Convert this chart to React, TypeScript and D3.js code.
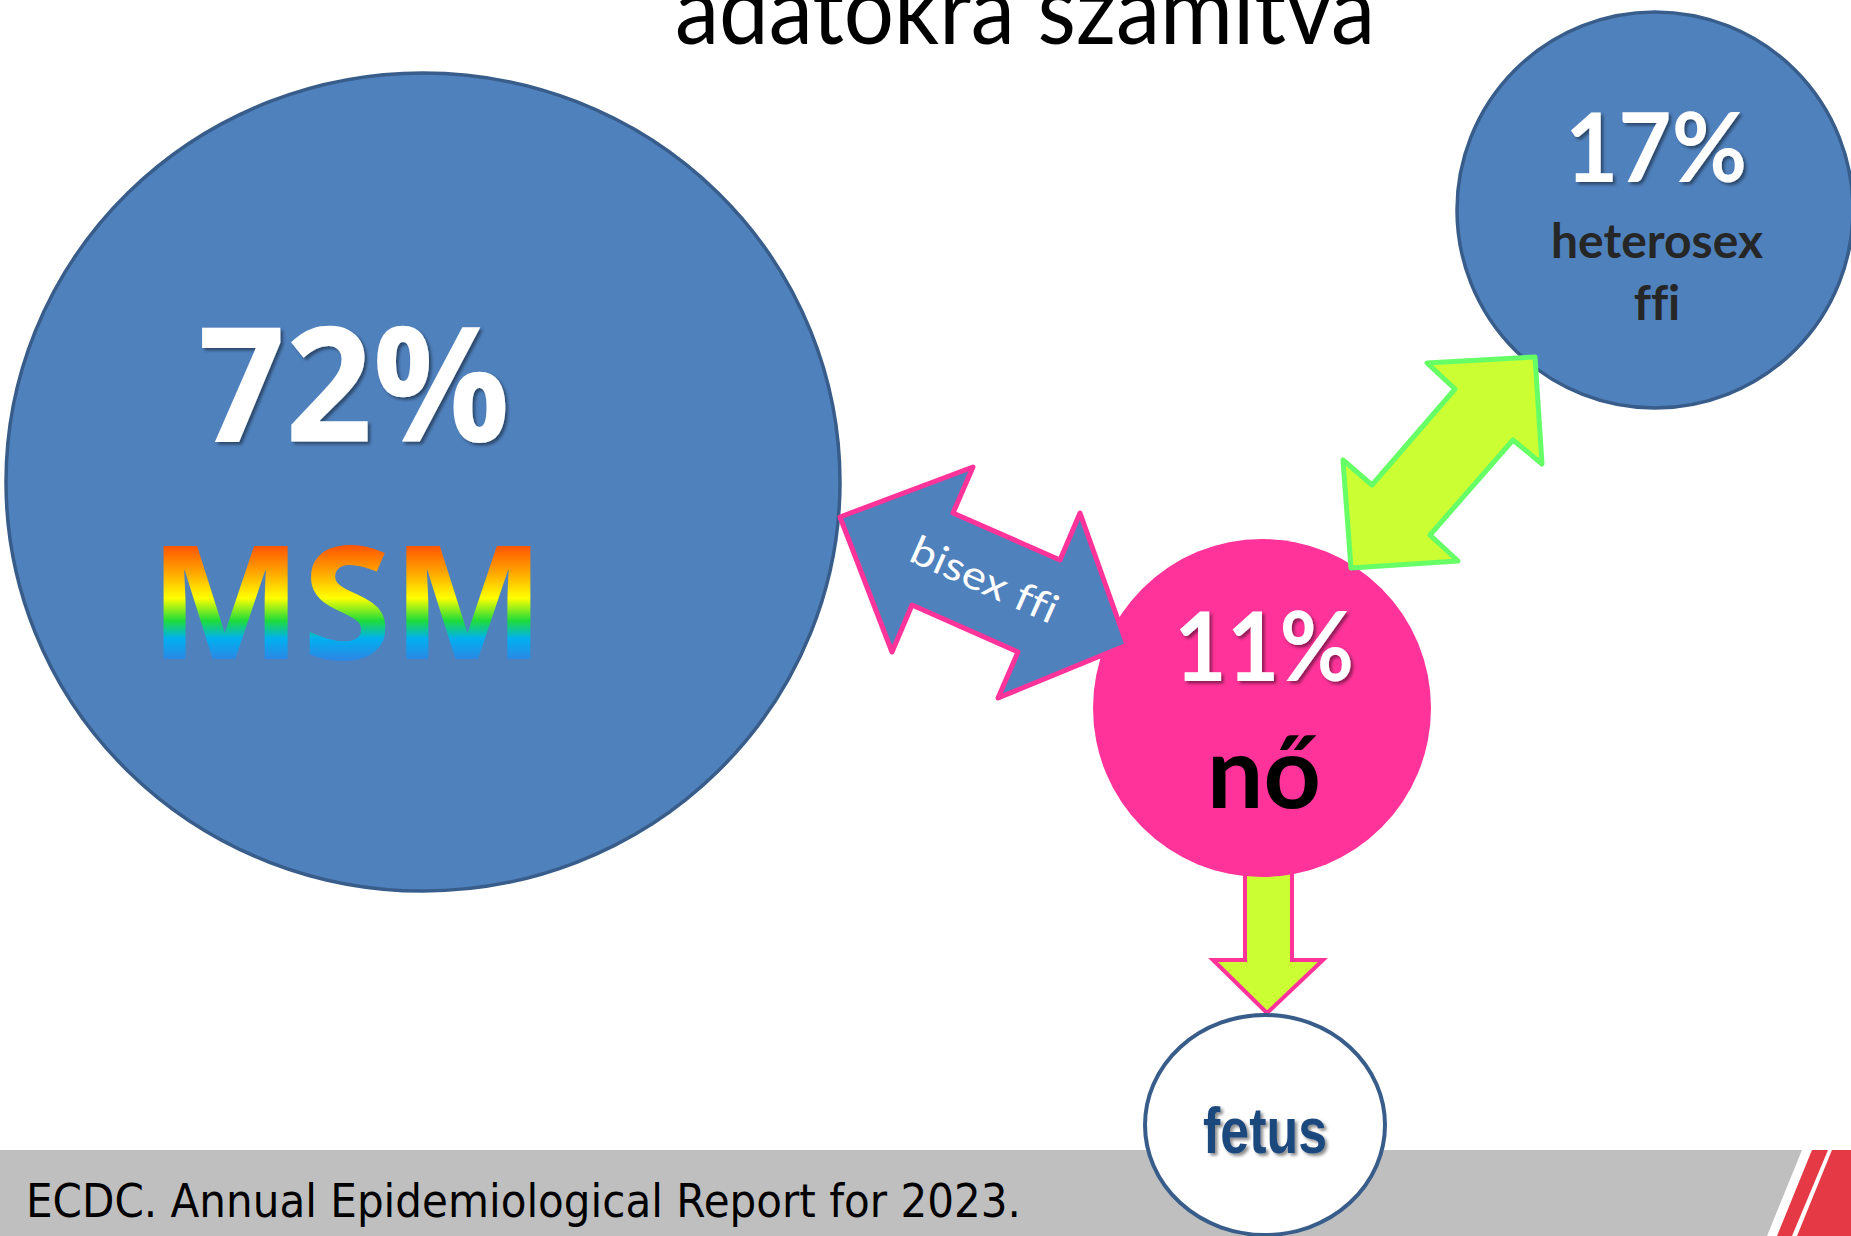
import React from "react";
import * as d3 from "d3";

// ---------- data ----------
const groupLabels = ["MSM", "heterosex ffi", "nő"];
const groupShares = [72, 17, 11];
const bridgeLabels = ["bisex ffi"];
const fetusLabels = ["fetus"];
const titleLines = ["adatokra számítva"];
const sourceLines = ["ECDC. Annual Epidemiological Report for 2023."];

// ---------- layout ----------
const W = 1851;
const H = 1236;

const circleLayout = [
  { cx: 423, cy: 482, rx: 417, ry: 409 },
  { cx: 1655, cy: 210, rx: 198, ry: 198 },
  { cx: 1262, cy: 708, rx: 169, ry: 169 },
];
const fetusCircle = { cx: 1265, cy: 1125, rx: 120, ry: 110 };

const bisexArrow: [number, number][] = [
  [840, 517], [973, 467], [953, 513], [1060, 560], [1080, 513],
  [1127, 645], [998, 698], [1018, 652], [912, 605], [892, 652],
];
const heteroArrow: [number, number][] = [
  [1535, 357], [1427, 363], [1455, 389], [1372, 485], [1343, 460],
  [1351, 568], [1458, 561], [1430, 535], [1513, 440], [1542, 464],
];
const downArrow: [number, number][] = [
  [1245, 850], [1292, 850], [1292, 960], [1323, 960], [1267, 1013],
  [1213, 960], [1245, 960],
];

const pct = (v: number) => `${d3.format("d")(v)}%`;
const closedLine = d3.line<[number, number]>().curve(d3.curveLinearClosed);
const noLig = { fontVariantLigatures: "none" as const, fontFeatureSettings: "'liga' 0, 'clig' 0" };

export default function App() {
  const blue = "#4f81bd";
  const blueStroke = "#385d8a";
  const pink = "#ff3399";
  const lime = "#ccff33";
  const green = "#66ff66";

  return (
    <svg
      width={W}
      height={H}
      viewBox={`0 0 ${W} ${H}`}
      style={{ position: "absolute", left: 0, top: 0, background: "#fff" }}
    >
      <defs>
        <filter id="sh" x="-20%" y="-20%" width="140%" height="140%">
          <feDropShadow dx="2.5" dy="2.5" stdDeviation="1.5" floodColor="#000" floodOpacity="0.45" />
        </filter>
        <linearGradient id="rainbow" gradientUnits="userSpaceOnUse" x1="0" y1="546" x2="0" y2="659">
          <stop offset="0" stopColor="#ff5500" />
          <stop offset="0.24" stopColor="#ffa800" />
          <stop offset="0.46" stopColor="#ffff00" />
          <stop offset="0.66" stopColor="#1fdc3a" />
          <stop offset="0.82" stopColor="#00b0f0" />
          <stop offset="1" stopColor="#2b88e4" />
        </linearGradient>
      </defs>

      {/* footer band */}
      <rect x={0} y={1150} width={W} height={H - 1150} fill="#bfbfbf" />
      <polygon points="1802,1150 1851,1150 1851,1236 1767,1236" fill="#ffffff" />
      <polygon points="1812,1150 1828,1150 1792,1236 1777,1236" fill="#e63946" />
      <polygon points="1832,1150 1851,1150 1851,1236 1797,1236" fill="#e63946" />
      <text
        x={26}
        y={1217}
        fontFamily="'DejaVu Sans', Verdana, sans-serif"
        fontSize={46}
        fill="#000"
        textLength={995}
        lengthAdjust="spacingAndGlyphs"
      >
        {sourceLines[0]}
      </text>

      {/* title (cut off at top, as in the original slide) */}
      <text
        x={675}
        y={44}
        fontFamily="Lato, 'Open Sans', sans-serif"
        fontSize={96}
        fill="#000"
        textLength={700}
        lengthAdjust="spacingAndGlyphs"
      >
        {titleLines[0]}
      </text>

      {/* down arrow to fetus (under pink circle) */}
      <path d={closedLine(downArrow) || ""} fill={lime} stroke={pink} strokeWidth={4} strokeLinejoin="miter" />

      {/* fetus circle */}
      <ellipse
        cx={fetusCircle.cx}
        cy={fetusCircle.cy}
        rx={fetusCircle.rx}
        ry={fetusCircle.ry}
        fill="#fff"
        stroke={blueStroke}
        strokeWidth={4}
      />
      <text
        x={fetusCircle.cx}
        y={1153}
        textAnchor="middle"
        fontFamily="'Liberation Sans Narrow', 'Liberation Sans', Arial, sans-serif"
        fontWeight="bold"
        fontSize={64}
        fill="#1f497d"
        textLength={124}
        lengthAdjust="spacingAndGlyphs"
        filter="url(#sh)"
      >
        {fetusLabels[0]}
      </text>

      {/* MSM circle */}
      <ellipse
        cx={circleLayout[0].cx}
        cy={circleLayout[0].cy}
        rx={circleLayout[0].rx}
        ry={circleLayout[0].ry}
        fill={blue}
        stroke={blueStroke}
        strokeWidth={3.5}
      />
      <text
        x={354}
        y={442}
        textAnchor="middle"
        fontFamily="'Open Sans', sans-serif"
        fontWeight="bold"
        fontSize={160}
        fill="#fff"
        textLength={312}
        lengthAdjust="spacingAndGlyphs"
        filter="url(#sh)"
      >
        {pct(groupShares[0])}
      </text>
      <text
        x={347}
        y={659}
        textAnchor="middle"
        fontFamily="'Open Sans', sans-serif"
        fontWeight="bold"
        fontSize={158}
        fill="url(#rainbow)"
        textLength={396}
        lengthAdjust="spacingAndGlyphs"
      >
        {groupLabels[0]}
      </text>

      {/* heterosex circle */}
      <ellipse
        cx={circleLayout[1].cx}
        cy={circleLayout[1].cy}
        rx={circleLayout[1].rx}
        ry={circleLayout[1].ry}
        fill={blue}
        stroke={blueStroke}
        strokeWidth={3.5}
      />
      <text
        x={1656}
        y={182}
        textAnchor="middle"
        fontFamily="Lato, sans-serif"
        fontWeight="bold"
        fontSize={96}
        fill="#fff"
        textLength={182}
        lengthAdjust="spacingAndGlyphs"
        filter="url(#sh)"
      >
        {pct(groupShares[1])}
      </text>
      {groupLabels[1].split(" ").map((w, i) => (
        <text
          key={w}
          x={1657}
          y={258 + i * 62}
          textAnchor="middle"
          fontFamily="Lato, sans-serif"
          fontWeight="bold"
          fontSize={48}
          fill="#262626"
          style={noLig}
        >
          {w}
        </text>
      ))}

      {/* pink circle */}
      <ellipse
        cx={circleLayout[2].cx}
        cy={circleLayout[2].cy}
        rx={circleLayout[2].rx}
        ry={circleLayout[2].ry}
        fill={pink}
      />
      <text
        x={1264}
        y={681}
        textAnchor="middle"
        fontFamily="Lato, sans-serif"
        fontWeight="bold"
        fontSize={95}
        fill="#fff"
        textLength={180}
        lengthAdjust="spacingAndGlyphs"
        filter="url(#sh)"
      >
        {pct(groupShares[2])}
      </text>
      <text
        x={1264}
        y={808}
        textAnchor="middle"
        fontFamily="Lato, sans-serif"
        fontWeight="bold"
        fontSize={100}
        fill="#000"
      >
        {groupLabels[2]}
      </text>

      {/* bisex arrow */}
      <path d={closedLine(bisexArrow) || ""} fill={blue} stroke={pink} strokeWidth={5} strokeLinejoin="round" />
      <text
        x={983}
        y={583}
        textAnchor="middle"
        dominantBaseline="middle"
        transform="rotate(24 983 583)"
        fontFamily="Lato, sans-serif"
        fontSize={40}
        fill="#fff"
        textLength={157}
        lengthAdjust="spacingAndGlyphs"
        style={noLig}
      >
        {bridgeLabels[0]}
      </text>

      {/* heterosex arrow */}
      <path d={closedLine(heteroArrow) || ""} fill={lime} stroke={green} strokeWidth={5} strokeLinejoin="round" />
    </svg>
  );
}
